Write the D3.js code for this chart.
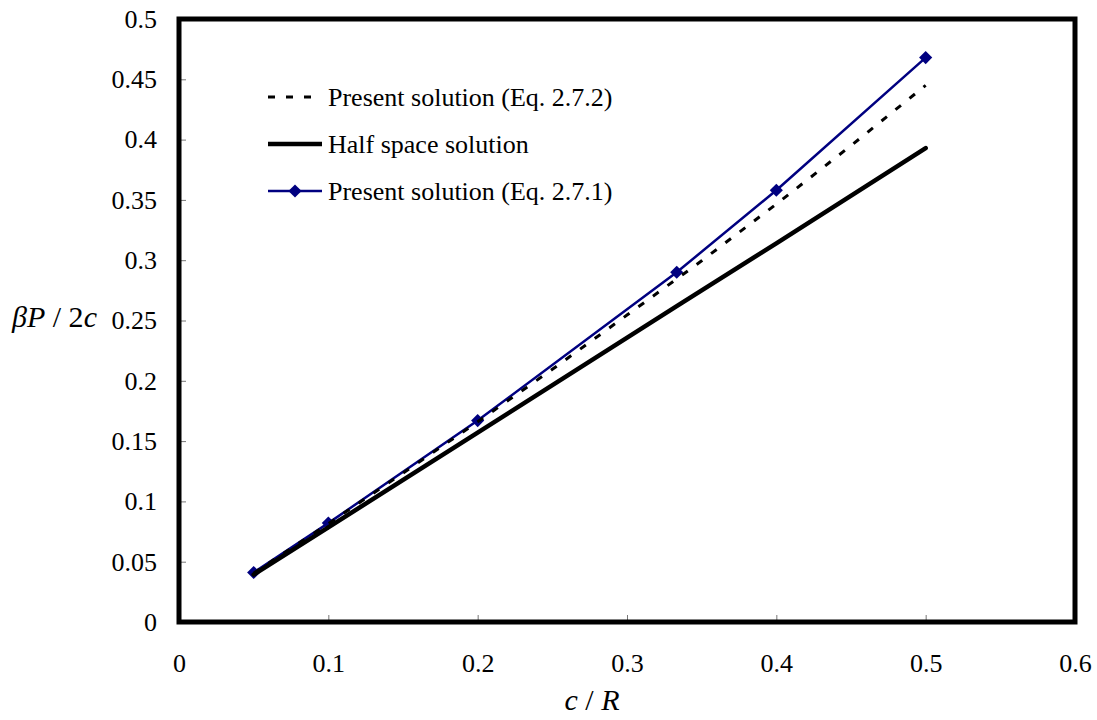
<!DOCTYPE html>
<html>
<head>
<meta charset="utf-8">
<script src="https://cdn.jsdelivr.net/npm/d3@7"></script>
<style>
  body { margin: 0; background: #fff; }
  svg text { font-family: "Liberation Serif", "Times New Roman", "DejaVu Serif", serif; }
</style>
</head>
<body>
<div id="chart"></div>
<script>
// c/R values and the three solutions
const xEq271 = [0.05, 0.1, 0.2, 0.3333, 0.4, 0.5];
const yEq271 = [0.041, 0.082, 0.167, 0.290, 0.358, 0.468];

const xEq272 = [0.05, 0.1, 0.15, 0.2, 0.25, 0.3, 0.35, 0.4, 0.45, 0.5];
const yEq272 = [0.0405, 0.0815, 0.1235, 0.166, 0.2095, 0.2545, 0.2995, 0.3465, 0.395, 0.445];

const xHalf = [0.05, 0.1, 0.2, 0.3333, 0.4, 0.5];
const yHalf = [0.0393, 0.0785, 0.157, 0.262, 0.314, 0.393];

const xTicks = [0, 0.1, 0.2, 0.3, 0.4, 0.5, 0.6];
const yTicks = [0, 0.05, 0.1, 0.15, 0.2, 0.25, 0.3, 0.35, 0.4, 0.45, 0.5];

const legendNames = ["Present solution (Eq. 2.7.2)", "Half space solution", "Present solution (Eq. 2.7.1)"];

const W = 1097, H = 720;
const margin = {top: 19, right: 22, bottom: 98, left: 179};
const width = W - margin.left - margin.right,
      height = H - margin.top - margin.bottom;
const serif = "'Liberation Serif', 'Times New Roman', 'DejaVu Serif', serif";

const svg = d3.select("#chart").append("svg")
    .attr("width", W)
    .attr("height", H)
    .attr("font-family", serif);

const g = svg.append("g")
    .attr("transform", `translate(${margin.left},${margin.top})`);

const x = d3.scaleLinear().domain([0, 0.6]).range([0, width]);
const y = d3.scaleLinear().domain([0, 0.5]).range([height, 0]);

const fmt = d => String(+d.toFixed(2));

// axes, ticks point inward
g.append("g")
    .attr("transform", `translate(0,${height})`)
    .call(d3.axisBottom(x).tickValues(xTicks).tickFormat(fmt).tickSizeInner(-7).tickSizeOuter(0).tickPadding(32))
    .attr("font-family", serif)
    .call(a => a.select(".domain").remove())
    .call(a => a.selectAll("line").attr("stroke", "#777"))
    .call(a => a.selectAll("text").attr("font-size", 26).attr("fill", "#000"));

g.append("g")
    .call(d3.axisLeft(y).tickValues(yTicks).tickFormat(fmt).tickSizeInner(-7).tickSizeOuter(0).tickPadding(22))
    .attr("font-family", serif)
    .call(a => a.select(".domain").remove())
    .call(a => a.selectAll("line").attr("stroke", "#777"))
    .call(a => a.selectAll("text").attr("font-size", 26).attr("fill", "#000"));

const toPts = (xs, ys) => xs.map((v, i) => [v, ys[i]]);
const line = d3.line().x(d => x(d[0])).y(d => y(d[1]));

const navy = "#000080";

// Eq. 2.7.1 with diamond markers
const p271 = toPts(xEq271, yEq271);
g.append("path")
    .attr("d", line(p271))
    .attr("fill", "none")
    .attr("stroke", navy)
    .attr("stroke-width", 2.5);

const diamond = d3.symbol().type(d3.symbolDiamond2).size(110);
g.selectAll(".mk")
    .data(p271)
    .join("path")
    .attr("class", "mk")
    .attr("transform", d => `translate(${x(d[0])},${y(d[1])})`)
    .attr("d", diamond)
    .attr("fill", navy);

// Eq. 2.7.2 dashed
g.append("path")
    .attr("d", line(toPts(xEq272, yEq272)))
    .attr("fill", "none")
    .attr("stroke", "#000")
    .attr("stroke-width", 3)
    .attr("stroke-dasharray", "7 11");

// half space
g.append("path")
    .attr("d", line(toPts(xHalf, yHalf)))
    .attr("fill", "none")
    .attr("stroke", "#000")
    .attr("stroke-width", 4.5)
    .attr("stroke-linecap", "round");

// frame
g.append("rect")
    .attr("width", width)
    .attr("height", height)
    .attr("fill", "none")
    .attr("stroke", "#000")
    .attr("stroke-width", 5);

// legend
const legend = svg.append("g").attr("transform", "translate(268,0)");
const legY = [97, 144, 191];
legendNames.forEach((name, i) => {
    const row = legend.append("g").attr("transform", `translate(0,${legY[i]})`);
    const ln = row.append("line")
        .attr("x1", 0).attr("x2", 54)
        .attr("y1", 0).attr("y2", 0);
    if (i === 0) {
        ln.attr("stroke", "#000").attr("stroke-width", 3).attr("stroke-dasharray", "7 11");
    } else if (i === 1) {
        ln.attr("stroke", "#000").attr("stroke-width", 4.5);
    } else {
        ln.attr("stroke", navy).attr("stroke-width", 2.5);
        row.append("path").attr("d", diamond).attr("transform", "translate(27,0)").attr("fill", navy);
    }
    row.append("text")
        .attr("x", 60)
        .attr("dy", "0.33em")
        .attr("font-size", 26)
        .text(name);
});

// axis titles
const yt = svg.append("text")
    .attr("x", 12)
    .attr("y", 327)
    .attr("font-size", 30);
yt.append("tspan").attr("font-style", "italic").text("βP");
yt.append("tspan").text(" / 2");
yt.append("tspan").attr("font-style", "italic").text("c");

const xt = svg.append("text")
    .attr("x", 592)
    .attr("y", 710)
    .attr("text-anchor", "middle")
    .attr("font-size", 30);
xt.append("tspan").attr("font-style", "italic").text("c");
xt.append("tspan").text(" / ");
xt.append("tspan").attr("font-style", "italic").text("R");
</script>
</body>
</html>
